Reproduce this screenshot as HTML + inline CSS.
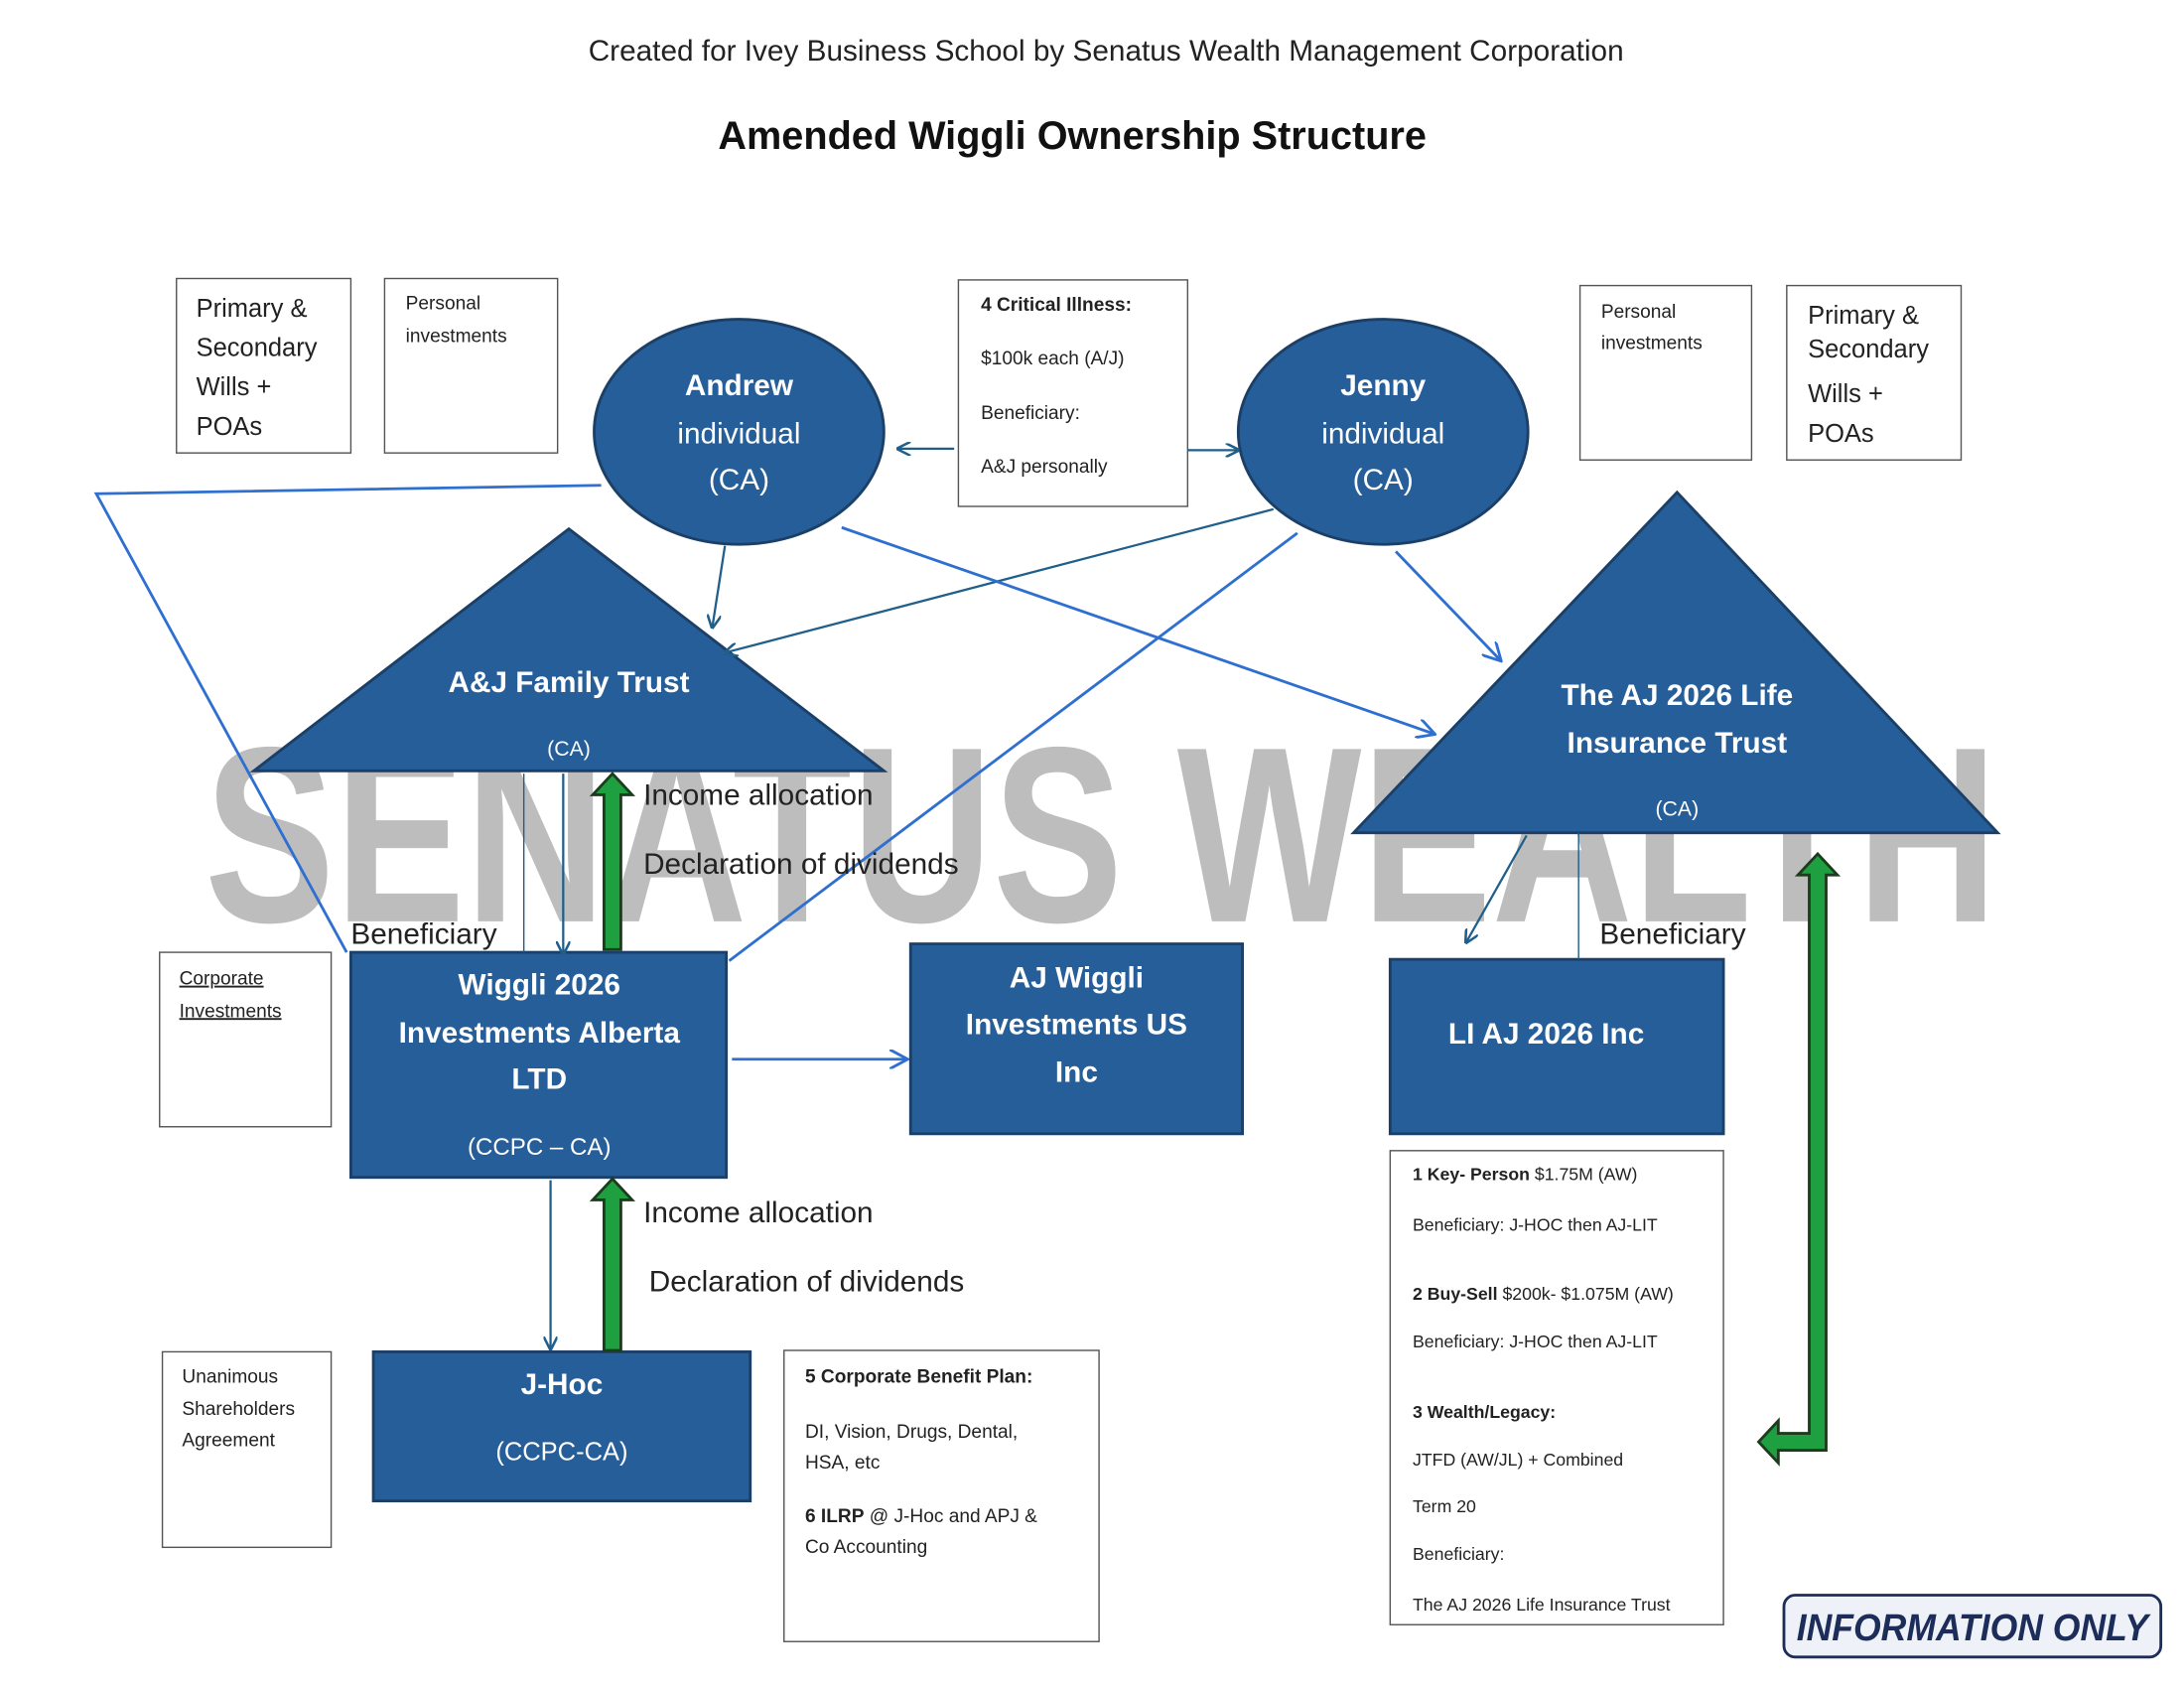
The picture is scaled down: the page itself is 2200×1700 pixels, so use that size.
<!DOCTYPE html>
<html><head><meta charset="utf-8"><style>
html,body{margin:0;padding:0;background:#fff}
svg{display:block}
text{font-family:"Liberation Sans",sans-serif}
</style></head><body>
<svg width="2200" height="1700" viewBox="0 0 1552 1200" xmlns="http://www.w3.org/2000/svg">
<defs>
<marker id="ah" markerWidth="10" markerHeight="10" refX="9" refY="5" orient="auto" markerUnits="userSpaceOnUse"><path d="M0,0 L10,5 L0,10" fill="none" stroke="#1f5f8a" stroke-width="1.8"/></marker>
<marker id="ab" markerWidth="14" markerHeight="14" refX="13" refY="7" orient="auto" markerUnits="userSpaceOnUse"><path d="M0,0 L13,7 L0,14" fill="none" stroke="#2f6fd0" stroke-width="2"/></marker>
</defs>
<rect width="1552" height="1200" fill="#fff"/>
<text x="786" y="43" font-size="21" text-anchor="middle" fill="#222">Created for Ivey Business School by Senatus Wealth Management Corporation</text>
<text x="762" y="106" font-size="28" font-weight="bold" text-anchor="middle" fill="#111">Amended Wiggli Ownership Structure</text>

<!-- watermark -->
<text x="145" y="655" font-size="178" font-weight="bold" fill="#bdbdbd" textLength="1275" lengthAdjust="spacingAndGlyphs">SENATUS WEALTH</text>

<!-- small boxes -->
<g fill="#fff" stroke="#555" stroke-width="1">
<rect x="125" y="198" width="124" height="124"/>
<rect x="273" y="198" width="123" height="124"/>
<rect x="681" y="199" width="163" height="161"/>
<rect x="1123" y="203" width="122" height="124"/>
<rect x="1270" y="203" width="124" height="124"/>
<rect x="113" y="677" width="122" height="124"/>
<rect x="115" y="961" width="120" height="139"/>
<rect x="557" y="960" width="224" height="207"/>
<rect x="988" y="818" width="237" height="337"/>
</g>
<g font-size="18" fill="#222">
<text x="139" y="225">Primary &amp;</text><text x="139" y="253">Secondary</text><text x="139" y="281">Wills +</text><text x="139" y="309">POAs</text>
<text x="1285" y="230">Primary &amp;</text><text x="1285" y="254">Secondary</text><text x="1285" y="286">Wills +</text><text x="1285" y="314">POAs</text>
</g>
<g font-size="13.5" fill="#222">
<text x="288" y="220">Personal</text><text x="288" y="243">investments</text>
<text x="1138" y="226">Personal</text><text x="1138" y="248">investments</text>
<text x="697" y="221" font-weight="bold">4 Critical Illness:</text>
<text x="697" y="259">$100k each (A/J)</text>
<text x="697" y="298">Beneficiary:</text>
<text x="697" y="336">A&amp;J personally</text>
<text x="127" y="700" text-decoration="underline">Corporate</text><text x="127" y="723" text-decoration="underline">Investments</text>
<text x="129" y="983">Unanimous</text><text x="129" y="1006">Shareholders</text><text x="129" y="1028">Agreement</text>
<text x="572" y="983" font-weight="bold">5 Corporate Benefit Plan:</text>
<text x="572" y="1022">DI, Vision, Drugs, Dental,</text>
<text x="572" y="1044">HSA, etc</text>
<text x="572" y="1082"><tspan font-weight="bold">6 ILRP</tspan> @ J-Hoc and APJ &amp;</text>
<text x="572" y="1104">Co Accounting</text>
</g>
<g font-size="12.5" fill="#222">
<text x="1004" y="839"><tspan font-weight="bold">1 Key- Person</tspan> $1.75M (AW)</text>
<text x="1004" y="875">Beneficiary: J-HOC then AJ-LIT</text>
<text x="1004" y="924"><tspan font-weight="bold">2 Buy-Sell</tspan> $200k- $1.075M (AW)</text>
<text x="1004" y="958">Beneficiary: J-HOC then AJ-LIT</text>
<text x="1004" y="1008" font-weight="bold">3 Wealth/Legacy:</text>
<text x="1004" y="1042">JTFD (AW/JL) + Combined</text>
<text x="1004" y="1075">Term 20</text>
<text x="1004" y="1109">Beneficiary:</text>
<text x="1004" y="1145">The AJ 2026 Life Insurance Trust</text>
</g>

<!-- main shapes -->
<g fill="#255e99" stroke="#1b3f66" stroke-width="2">
<ellipse cx="525" cy="307" rx="103" ry="80"/>
<ellipse cx="983" cy="307" rx="103" ry="80"/>
<polygon points="404,376 628,548 180,548"/>
<polygon points="1192,350 1420,592 962,592"/>
<rect x="249" y="677" width="267" height="160"/>
<rect x="647" y="671" width="236" height="135"/>
<rect x="988" y="682" width="237" height="124"/>
<rect x="265" y="961" width="268" height="106"/>
</g>
<g fill="#fff" text-anchor="middle" font-size="21">
<text x="525" y="281" font-weight="bold">Andrew</text><text x="525" y="315">individual</text><text x="525" y="348">(CA)</text>
<text x="983" y="281" font-weight="bold">Jenny</text><text x="983" y="315">individual</text><text x="983" y="348">(CA)</text>
<text x="404" y="492" font-weight="bold">A&amp;J Family Trust</text>
<text x="404" y="537" font-size="15">(CA)</text>
<text x="1192" y="501" font-weight="bold">The AJ 2026 Life</text>
<text x="1192" y="535" font-weight="bold">Insurance Trust</text>
<text x="1192" y="580" font-size="15">(CA)</text>
<text x="383" y="707" font-weight="bold">Wiggli 2026</text>
<text x="383" y="741" font-weight="bold">Investments Alberta</text>
<text x="383" y="774" font-weight="bold">LTD</text>
<text x="383" y="821" font-size="17">(CCPC – CA)</text>
<text x="765" y="702" font-weight="bold">AJ Wiggli</text>
<text x="765" y="735" font-weight="bold">Investments US</text>
<text x="765" y="769" font-weight="bold">Inc</text>
<text x="1099" y="742" font-weight="bold">LI AJ 2026 Inc</text>
<text x="399" y="991" font-weight="bold">J-Hoc</text>
<text x="399" y="1038" font-size="18">(CCPC-CA)</text>
</g>

<!-- connectors -->
<g fill="none">
<line x1="678" y1="319" x2="638" y2="319" stroke="#1f5f8a" stroke-width="1.6" marker-end="url(#ah)"/>
<line x1="844" y1="320" x2="880" y2="320" stroke="#1f5f8a" stroke-width="1.6" marker-end="url(#ah)"/>
<polyline points="427,345 68,351 246,677" stroke="#2f6fd0" stroke-width="2"/>
<line x1="515" y1="388" x2="506" y2="446" stroke="#1f5f8a" stroke-width="1.6" marker-end="url(#ah)"/>
<line x1="905" y1="362" x2="515" y2="464" stroke="#1f5f8a" stroke-width="1.6" marker-end="url(#ah)"/>
<line x1="598" y1="375" x2="1020" y2="522" stroke="#2f6fd0" stroke-width="2" marker-end="url(#ab)"/>
<line x1="992" y1="392" x2="1067" y2="470" stroke="#2f6fd0" stroke-width="2" marker-end="url(#ab)"/>
<line x1="922" y1="379" x2="518" y2="683" stroke="#2f6fd0" stroke-width="2"/>
<line x1="372" y1="550" x2="372" y2="677" stroke="#1f5f8a" stroke-width="1"/>
<line x1="400" y1="550" x2="400" y2="678" stroke="#1f5f8a" stroke-width="1.6" marker-end="url(#ah)"/>
<line x1="520" y1="753" x2="645" y2="753" stroke="#2f6fd0" stroke-width="2" marker-end="url(#ab)"/>
<line x1="391" y1="839" x2="391" y2="959" stroke="#1f5f8a" stroke-width="1.6" marker-end="url(#ah)"/>
<line x1="1085" y1="594" x2="1042" y2="670" stroke="#1f5f8a" stroke-width="1.6" marker-end="url(#ah)"/>
<line x1="1122" y1="592" x2="1122" y2="682" stroke="#1f5f8a" stroke-width="1"/>
</g>

<!-- green arrows -->
<g fill="#1fa040" stroke="#1d3b1d" stroke-width="2">
<polygon points="429,675 441,675 441,565 449,565 435,550 421,565 429,565"/>
<polygon points="429,960 441,960 441,853 449,853 435,838 421,853 429,853"/>
<polygon points="1264,1019 1286,1019 1286,622 1278,622 1292,607 1306,622 1298,622 1298,1031 1264,1031 1264,1040 1250,1025 1264,1010"/>
</g>

<g font-size="21" fill="#222">
<text x="457" y="572">Income allocation</text>
<text x="457" y="621">Declaration of dividends</text>
<text x="249" y="671">Beneficiary</text>
<text x="457" y="869">Income allocation</text>
<text x="461" y="918">Declaration of dividends</text>
<text x="1137" y="671">Beneficiary</text>
</g>

<!-- badge -->
<rect x="1268" y="1134" width="268" height="44" rx="8" fill="#eef1f7" stroke="#1d2d5a" stroke-width="2"/>
<text x="1402" y="1166" font-size="27" font-weight="bold" font-style="italic" text-anchor="middle" fill="#1d2d5a" textLength="250" lengthAdjust="spacingAndGlyphs">INFORMATION ONLY</text>
</svg>
</body></html>
